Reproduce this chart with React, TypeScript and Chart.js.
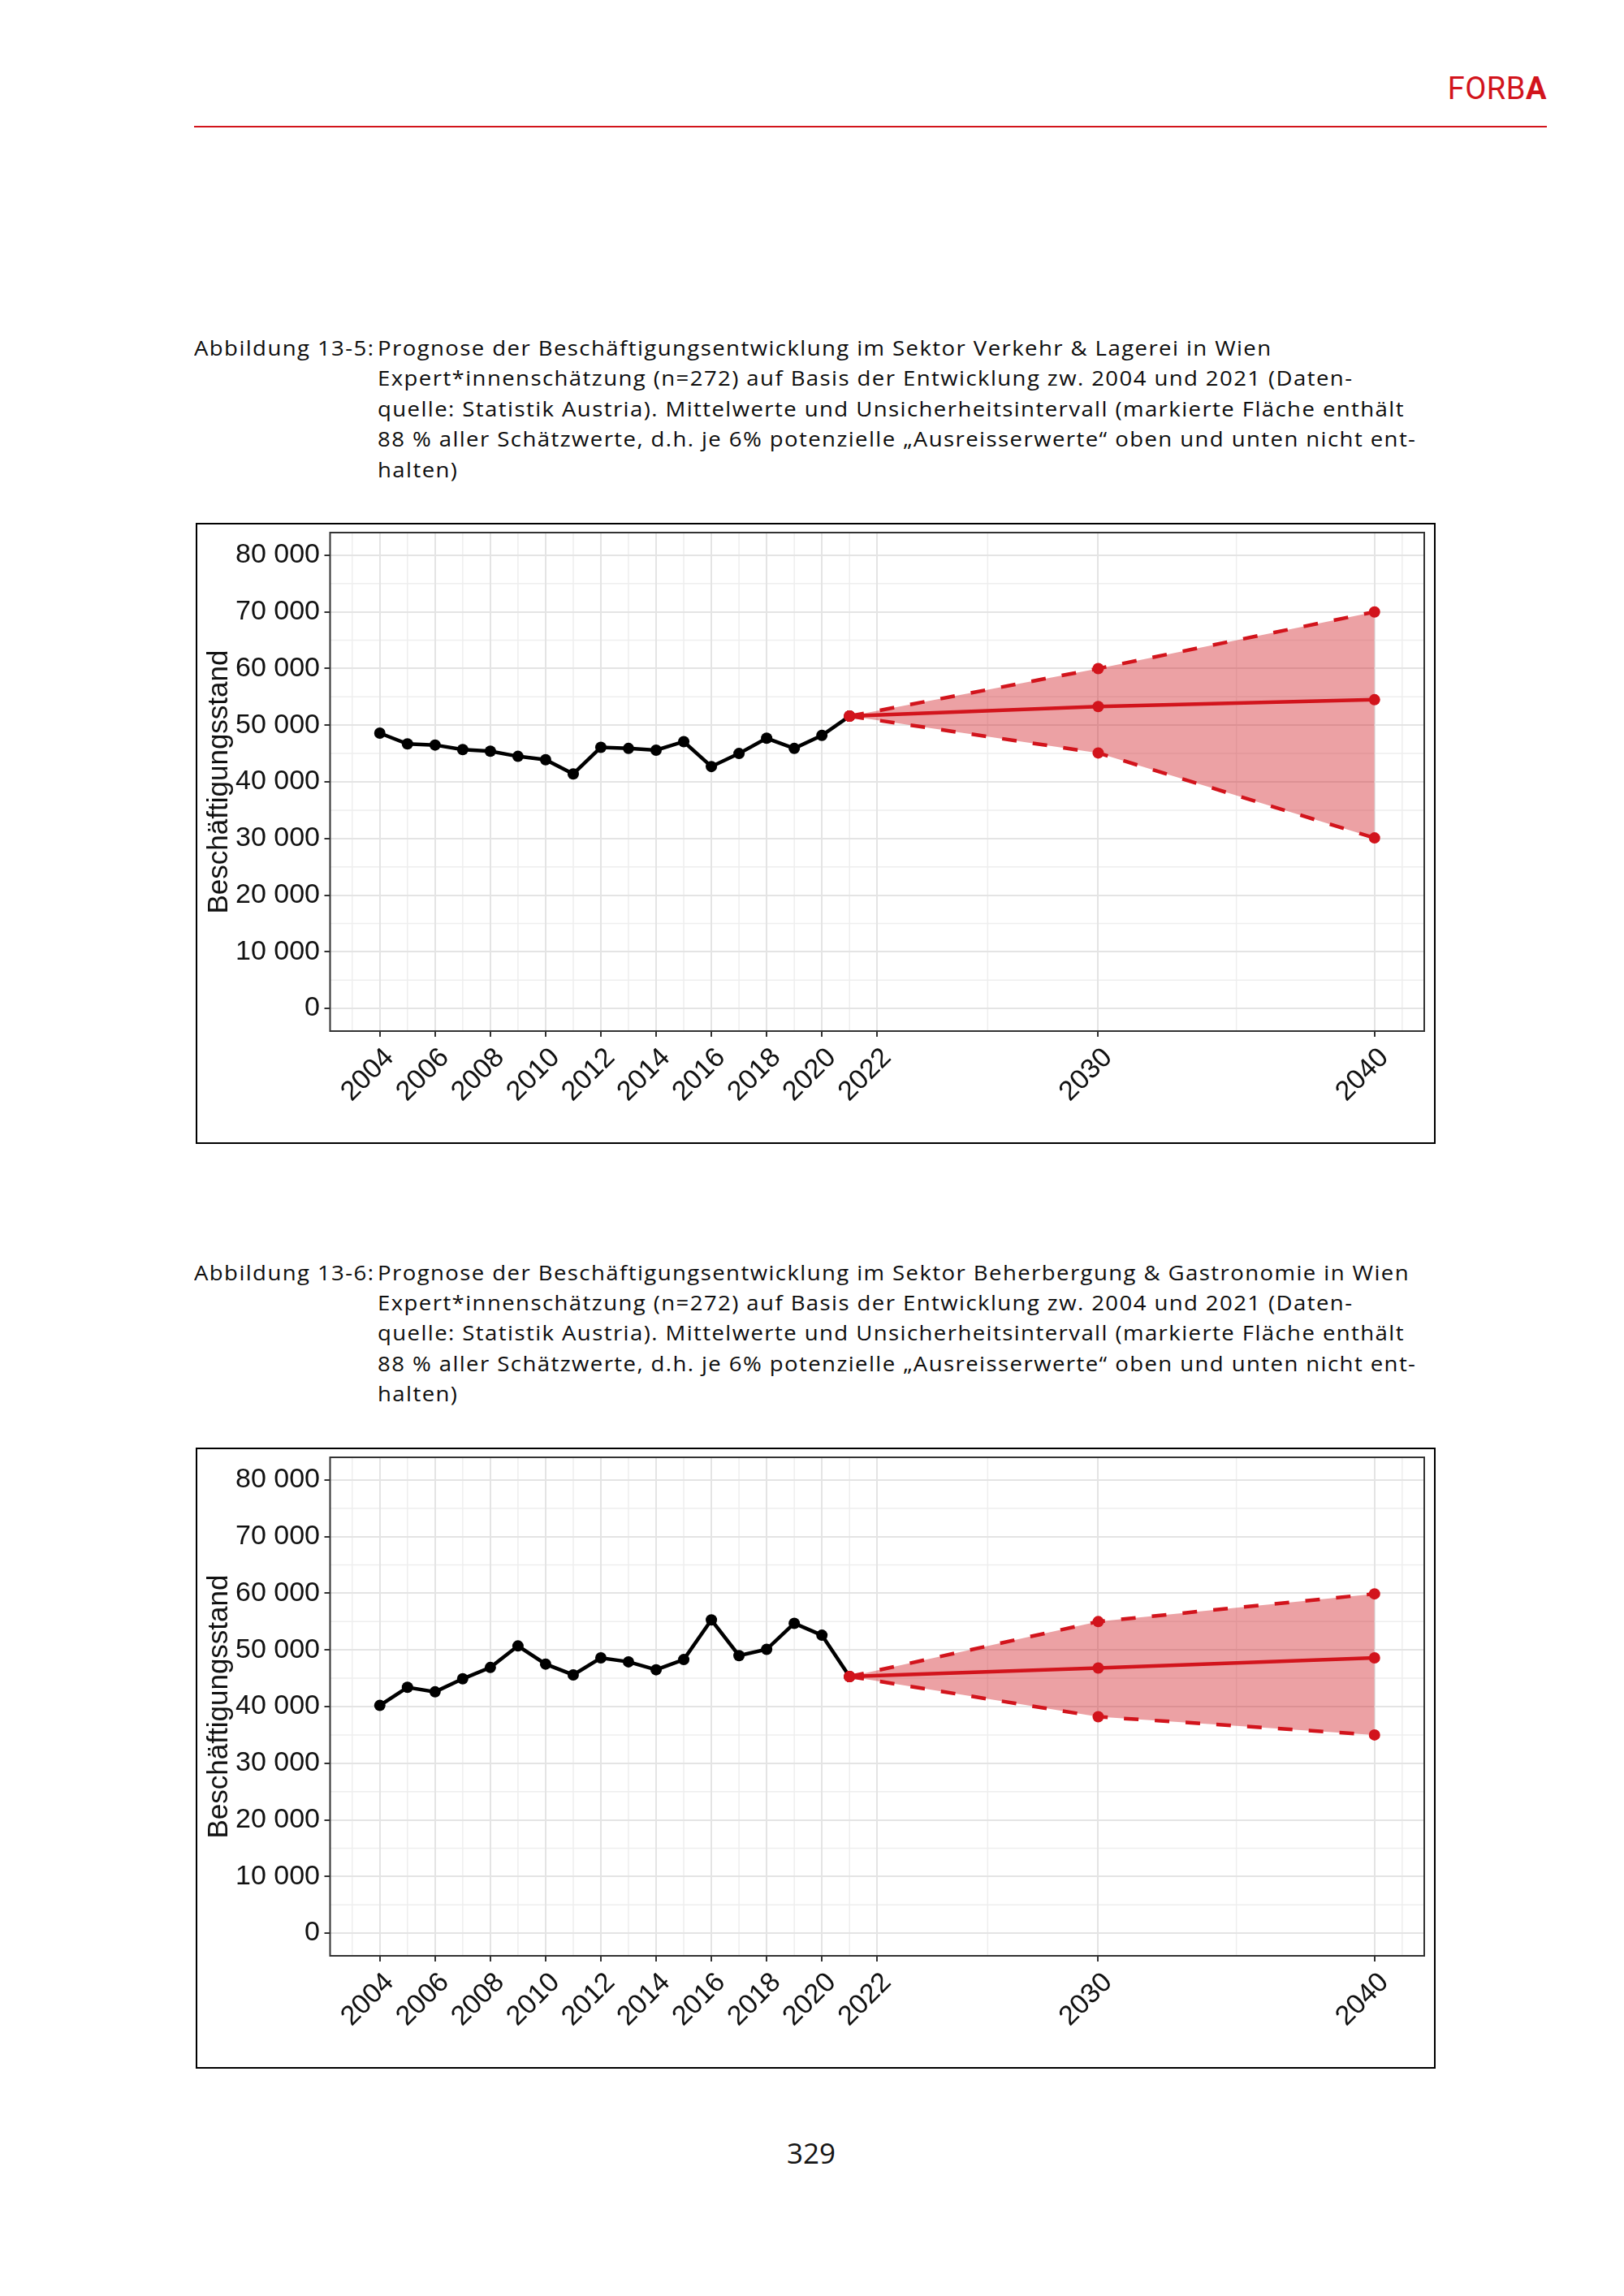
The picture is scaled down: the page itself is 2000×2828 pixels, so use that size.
import React, { useEffect, useRef } from "react";
import { Chart, registerables } from "chart.js";

Chart.register(...registerables);

// ---------- data ----------
const YEARS_HIST = [2004, 2005, 2006, 2007, 2008, 2009, 2010, 2011, 2012, 2013, 2014, 2015, 2016, 2017, 2018, 2019, 2020, 2021];
const YEARS_PROG = [2021, 2030, 2040];

const VERKEHR_HIST = [48600, 46700, 46500, 45700, 45400, 44500, 43900, 41400, 46100, 45900, 45600, 47100, 42700, 45000, 47700, 45900, 48200, 51600];
const VERKEHR_MEAN = [51600, 53300, 54500];
const VERKEHR_UPPER = [51600, 60000, 70000];
const VERKEHR_LOWER = [51600, 45100, 30100];

const GASTRO_HIST = [40200, 43400, 42600, 44900, 46900, 50700, 47500, 45600, 48600, 47900, 46500, 48300, 55300, 49000, 50100, 54700, 52600, 45300];
const GASTRO_MEAN = [45300, 46800, 48600];
const GASTRO_UPPER = [45300, 55000, 59900];
const GASTRO_LOWER = [45300, 38200, 35000];

const X_TICKS = [2004, 2006, 2008, 2010, 2012, 2014, 2016, 2018, 2020, 2022, 2030, 2040];
const X_MINOR = [2003, 2005, 2007, 2009, 2011, 2013, 2015, 2017, 2019, 2021, 2026, 2035, 2041];
const Y_TICKS = [0, 10000, 20000, 30000, 40000, 50000, 60000, 70000, 80000];
const Y_MINOR = [5000, 15000, 25000, 35000, 45000, 55000, 65000, 75000];
const Y_TITLE = "Beschäftigungsstand";

const CAPTION_1 = [
  "Prognose der Beschäftigungsentwicklung im Sektor Verkehr & Lagerei in Wien",
  "Expert*innenschätzung (n=272) auf Basis der Entwicklung zw. 2004 und 2021 (Daten-",
  "quelle: Statistik Austria). Mittelwerte und Unsicherheitsintervall (markierte Fläche enthält",
  "88 % aller Schätzwerte, d.h. je 6% potenzielle „Ausreisserwerte“ oben und unten nicht ent-",
  "halten)",
];
const CAPTION_2 = [
  "Prognose der Beschäftigungsentwicklung im Sektor Beherbergung & Gastronomie in Wien",
  "Expert*innenschätzung (n=272) auf Basis der Entwicklung zw. 2004 und 2021 (Daten-",
  "quelle: Statistik Austria). Mittelwerte und Unsicherheitsintervall (markierte Fläche enthält",
  "88 % aller Schätzwerte, d.h. je 6% potenzielle „Ausreisserwerte“ oben und unten nicht ent-",
  "halten)",
];

// ---------- styles ----------
const RED = "#D2141C";
const FILL = "rgba(208, 20, 28, 0.40)";
const GRID_MAJOR = "#E4E4E4";
const GRID_MINOR = "#EEEEEE";
const AXIS_FONT = { family: '"Liberation Sans", Arial, sans-serif', size: 34 };

const fmt = (v: number) => String(v).replace(/\B(?=(\d{3})+(?!\d))/g, " ");

const panelPlugin = {
  id: "panelDecor",
  beforeDraw(chart: any) {
    const { ctx, chartArea, scales } = chart;
    ctx.save();
    ctx.strokeStyle = GRID_MINOR;
    ctx.lineWidth = 1.5;
    X_MINOR.forEach((v) => {
      const x = scales.x.getPixelForValue(v);
      if (x < chartArea.left || x > chartArea.right) return;
      ctx.beginPath();
      ctx.moveTo(x, chartArea.top);
      ctx.lineTo(x, chartArea.bottom);
      ctx.stroke();
    });
    Y_MINOR.forEach((v) => {
      const y = scales.y.getPixelForValue(v);
      if (y < chartArea.top || y > chartArea.bottom) return;
      ctx.beginPath();
      ctx.moveTo(chartArea.left, y);
      ctx.lineTo(chartArea.right, y);
      ctx.stroke();
    });
    ctx.restore();
  },
  afterDraw(chart: any) {
    const { ctx, chartArea } = chart;
    ctx.save();
    ctx.strokeStyle = "#333333";
    ctx.lineWidth = 2;
    ctx.strokeRect(chartArea.left, chartArea.top, chartArea.right - chartArea.left, chartArea.bottom - chartArea.top);
    ctx.restore();
  },
};

type ChartProps = { hist: number[]; mean: number[]; upper: number[]; lower: number[] };

function ProjectionChart({ hist, mean, upper, lower }: ChartProps) {
  const ref = useRef<HTMLCanvasElement>(null);
  useEffect(() => {
    if (!ref.current) return;
    const toPts = (xs: number[], ys: number[]) => xs.map((x, i) => ({ x, y: ys[i] }));
    const chart = new Chart(ref.current, {
      type: "line",
      data: {
        datasets: [
          {
            data: toPts(YEARS_HIST, hist),
            borderColor: "#000",
            backgroundColor: "#000",
            borderWidth: 4.5,
            pointRadius: 7,
            pointBorderWidth: 0,
            tension: 0,
            order: 5,
          },
          {
            data: toPts(YEARS_PROG, upper),
            borderColor: RED,
            backgroundColor: FILL,
            borderWidth: 4.5,
            borderDash: [18, 20],
            pointRadius: 7,
            pointBackgroundColor: RED,
            pointBorderWidth: 0,
            fill: "+1",
            order: 3,
          },
          {
            data: toPts(YEARS_PROG, lower),
            borderColor: RED,
            backgroundColor: RED,
            borderWidth: 4.5,
            borderDash: [18, 20],
            pointRadius: 7,
            pointBorderWidth: 0,
            fill: false,
            order: 2,
          },
          {
            data: toPts(YEARS_PROG, mean),
            borderColor: RED,
            backgroundColor: RED,
            borderWidth: 4.5,
            pointRadius: 7,
            pointBorderWidth: 0,
            fill: false,
            order: 1,
          },
        ],
      },
      options: {
        animation: false,
        responsive: false,
        devicePixelRatio: 1,
        layout: { padding: { left: 0, right: 12, top: 10, bottom: 0 } },
        plugins: { legend: { display: false }, tooltip: { enabled: false } },
        scales: {
          x: {
            type: "linear",
            min: 2002.2,
            max: 2041.8,
            afterBuildTicks: (s: any) => {
              s.ticks = X_TICKS.map((value) => ({ value }));
            },
            afterFit: (s: any) => {
              s.height = 137;
              s.paddingLeft = 0;
              s.paddingRight = 0;
            },
            ticks: {
              autoSkip: false,
              minRotation: 45,
              maxRotation: 45,
              padding: 6,
              labelOffset: 12,
              color: "#111",
              font: AXIS_FONT,
              callback: (v: any) => String(v),
            },
            grid: { color: GRID_MAJOR, lineWidth: 2, tickLength: 7, tickColor: "#333", tickWidth: 2, drawTicks: true },
            border: { display: false },
          },
          y: {
            type: "linear",
            min: -4000,
            max: 84000,
            afterBuildTicks: (s: any) => {
              s.ticks = Y_TICKS.map((value) => ({ value }));
            },
            afterFit: (s: any) => {
              s.width = 163.5;
              s.paddingTop = 0;
              s.paddingBottom = 0;
            },
            ticks: {
              padding: 5.5,
              color: "#111",
              font: AXIS_FONT,
              callback: (v: any) => fmt(Number(v)),
            },
            grid: { color: GRID_MAJOR, lineWidth: 2, tickLength: 7, tickColor: "#333", tickWidth: 2, drawTicks: true },
            border: { display: false },
            title: {
              display: true,
              text: Y_TITLE,
              color: "#111",
              font: { family: AXIS_FONT.family, size: 35 },
              padding: { top: 6, bottom: 0 },
            },
          },
        },
      },
      plugins: [panelPlugin],
    } as any);
    return () => chart.destroy();
  }, [hist, mean, upper, lower]);
  return <canvas ref={ref} width={1523} height={761} style={{ display: "block", width: 1523, height: 761 }} />;
}

const CAP_SCALE = 1.06;
const CAP_LABEL_W = 226 / CAP_SCALE;

const CAP_FONT: React.CSSProperties = {
  fontFamily: '"Open Sans", sans-serif',
  fontSize: 26,
  lineHeight: "37.4px",
  color: "#0d0d0d",
  letterSpacing: "1.33px",
  whiteSpace: "nowrap",
  transform: `scaleX(${CAP_SCALE})`,
  transformOrigin: "0 0",
};

function Caption({ label, lines, top }: { label: string; lines: string[]; top: number }) {
  return (
    <div style={{ position: "absolute", left: 239, top, ...CAP_FONT }}>
      <div style={{ display: "flex" }}>
        <span style={{ display: "inline-block", width: CAP_LABEL_W }}>{label}</span>
        <span>{lines[0]}</span>
      </div>
      {lines.slice(1).map((l, i) => (
        <div key={i} style={{ paddingLeft: CAP_LABEL_W }}>
          {l}
        </div>
      ))}
    </div>
  );
}

function ChartBox({ top, children }: { top: number; children: React.ReactNode }) {
  return (
    <div
      style={{
        position: "absolute",
        left: 241,
        top,
        width: 1523,
        height: 761,
        border: "2px solid #000",
        background: "#fff",
      }}
    >
      {children}
    </div>
  );
}

export default function App() {
  return (
    <div
      style={{
        position: "absolute",
        left: 0,
        top: 0,
        width: 2000,
        height: 2828,
        background: "#fff",
        overflow: "hidden",
      }}
    >
      <div
        style={{
          position: "absolute",
          right: 95,
          top: 87,
          fontFamily: "Roboto, sans-serif",
          fontSize: 38,
          lineHeight: "normal",
          color: RED,
          letterSpacing: "0.5px",
        }}
      >
        FORB<span style={{ fontWeight: 700 }}>A</span>
      </div>
      <div style={{ position: "absolute", left: 239, top: 155, width: 1666, height: 2, background: RED }} />

      <Caption label="Abbildung 13-5:" lines={CAPTION_1} top={410} />
      <ChartBox top={644}>
        <ProjectionChart hist={VERKEHR_HIST} mean={VERKEHR_MEAN} upper={VERKEHR_UPPER} lower={VERKEHR_LOWER} />
      </ChartBox>

      <Caption label="Abbildung 13-6:" lines={CAPTION_2} top={1548.5} />
      <ChartBox top={1783}>
        <ProjectionChart hist={GASTRO_HIST} mean={GASTRO_MEAN} upper={GASTRO_UPPER} lower={GASTRO_LOWER} />
      </ChartBox>

      <div
        style={{
          position: "absolute",
          left: 899,
          width: 200,
          top: 2628,
          textAlign: "center",
          fontFamily: '"Open Sans", sans-serif',
          fontSize: 35,
          lineHeight: "normal",
          color: "#141414",
        }}
      >
        329
      </div>
    </div>
  );
}
